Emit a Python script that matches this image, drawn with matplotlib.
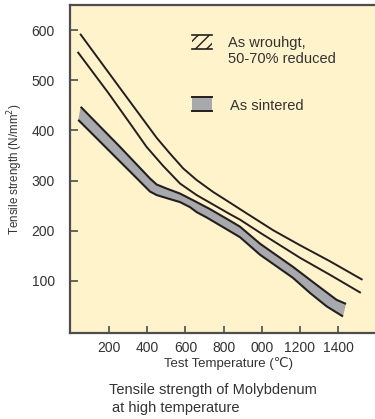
import numpy as np
import matplotlib
matplotlib.use('Agg')
import matplotlib.pyplot as plt
from matplotlib.patches import Rectangle

plt.rcParams['font.family'] = ['Liberation Sans', 'DejaVu Sans']
plt.rcParams['hatch.linewidth'] = 1.0

# Data (temperature in C, strength in N/mm2)
wrought_hi_t = [52, 266, 450, 519, 589, 659, 746, 833, 886, 1059, 1200, 1357, 1523]
wrought_hi_s = [591, 480, 385, 354, 324, 301, 277, 256, 243, 201, 171, 139, 103]

wrought_lo_t = [39, 196, 310, 397, 484, 572, 659, 746, 833, 886, 991, 1200, 1357, 1514]
wrought_lo_s = [555, 475, 414, 367, 329, 294, 271, 252, 233, 222, 196, 146, 112, 77]

sinter_top_t = [52, 258, 415, 450, 502, 572, 659, 729, 833, 886, 991, 1163, 1287, 1392, 1441]
sinter_top_s = [447, 367, 304, 292, 284, 274, 257, 243, 220, 208, 174, 128, 92, 62, 54]

sinter_bot_t = [39, 231, 310, 415, 450, 519, 572, 624, 659, 713, 833, 886, 991, 1163,
                1252, 1340, 1425]
sinter_bot_s = [421, 348, 318, 278, 271, 263, 257, 247, 237, 226, 199, 187, 152, 106,
                76, 49, 29]

xticks = [200, 400, 600, 800, 1000, 1200, 1400]
xtick_labels = ['200', '400', '600', '800', '000', '1200', '1400']
yticks = [100, 200, 300, 400, 500, 600]

bg = '#fff3cb'
ink = '#231f20'
grey = '#a7a9ac'
axis_col = '#4d4d4d'
txt = '#333333'

W, H = 375, 419
fig = plt.figure(figsize=(W / 100, H / 100), dpi=100)
# axes run past the right edge of the figure, as in the reference
ax = fig.add_axes([70 / W, (H - 333) / H, 315 / W, 328 / H])
ax.set_facecolor(bg)

# sintered band
band_t = np.concatenate([sinter_top_t, sinter_bot_t[::-1]])
band_s = np.concatenate([sinter_top_s, sinter_bot_s[::-1]])
ax.fill(band_t, band_s, color=grey, lw=0)
ax.plot(sinter_top_t, sinter_top_s, color=ink, lw=1.5, solid_capstyle='butt',
        solid_joinstyle='round')
ax.plot(sinter_bot_t, sinter_bot_s, color=ink, lw=1.5, solid_capstyle='butt',
        solid_joinstyle='round')

# wrought lines
ax.plot(wrought_hi_t, wrought_hi_s, color=ink, lw=1.4, solid_joinstyle='round')
ax.plot(wrought_lo_t, wrought_lo_s, color=ink, lw=1.4, solid_joinstyle='round')

ax.set_xlim(-4, 1645)
ax.set_ylim(-4, 650)
ax.set_xticks(xticks)
ax.set_xticklabels(xtick_labels)
ax.set_yticks(yticks)
ax.tick_params(axis='y', direction='in', length=6, width=1.2, color=axis_col,
               labelsize=10, labelcolor=txt, pad=11, right=False)
ax.tick_params(axis='x', direction='in', length=5, width=1.2, color=axis_col,
               labelsize=10, labelcolor=txt, pad=6, top=False)
for side in ['left', 'bottom', 'top']:
    ax.spines[side].set_color(axis_col)
    ax.spines[side].set_linewidth(1.6)
ax.spines['right'].set_visible(False)

# legend drawn by hand (pixel positions -> axes fraction)
def px(x, y):
    return (x - 70) / 315, (333 - y) / 328

x0, y0 = px(192, 49)
w, h = 20 / 315, 14 / 328
ax.add_patch(Rectangle((x0, y0), w, h, transform=ax.transAxes, facecolor='none',
                       edgecolor=ink, hatch='///', lw=0))
ax.plot([x0, x0 + w], [y0, y0], color=ink, lw=1.2, transform=ax.transAxes)
ax.plot([x0, x0 + w], [y0 + h, y0 + h], color=ink, lw=1.2, transform=ax.transAxes)

x1, y1 = px(192, 111)
ax.add_patch(Rectangle((x1, y1), w, h, transform=ax.transAxes, facecolor=grey, lw=0))
ax.plot([x1, x1 + w], [y1, y1], color=ink, lw=1.4, transform=ax.transAxes)
ax.plot([x1, x1 + w], [y1 + h, y1 + h], color=ink, lw=1.4, transform=ax.transAxes)

tx, ty = px(228, 43)
ax.text(tx, ty, 'As wrouhgt,', transform=ax.transAxes, fontsize=10.5, color=txt, va='center')
tx, ty = px(228, 59)
ax.text(tx, ty, '50-70% reduced', transform=ax.transAxes, fontsize=10.5, color=txt, va='center')
tx, ty = px(230, 106)
ax.text(tx, ty, 'As sintered', transform=ax.transAxes, fontsize=10.5, color=txt, va='center')

fig.text(15 / W, 1 - 169 / H, 'Tensile strength (N/mm$^2$)', rotation=90, fontsize=8.4,
         color=txt, ha='center', va='center')
fig.text(228 / W, 1 - 363 / H, 'Test Temperature (℃)', fontsize=9.5, color=txt,
         ha='center', va='center')
fig.text(109 / W, 1 - 390 / H, 'Tensile strength of Molybdenum', fontsize=10.5,
         color=txt, ha='left', va='center')
fig.text(112 / W, 1 - 408 / H, 'at high temperature', fontsize=10.5,
         color=txt, ha='left', va='center')

fig.savefig('out.png', dpi=100, facecolor='white')
